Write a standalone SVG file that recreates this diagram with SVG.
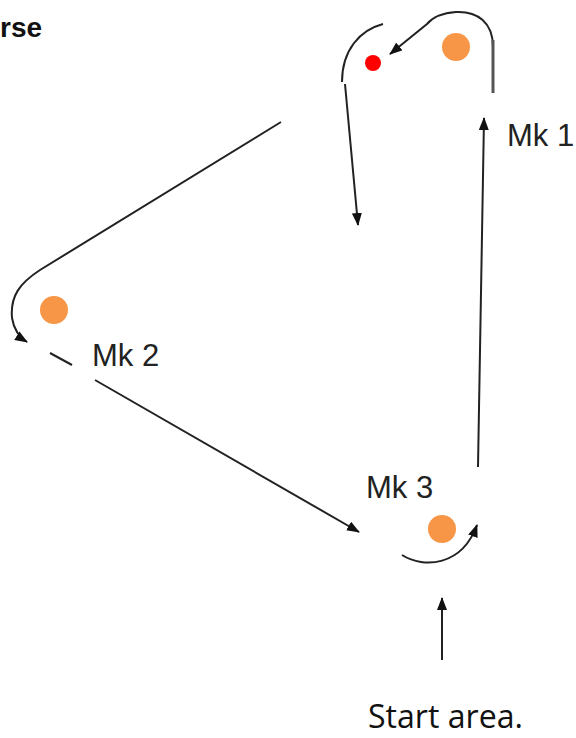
<svg xmlns="http://www.w3.org/2000/svg" width="576" height="738" viewBox="0 0 576 738">
  <style>
    .c { fill: none; stroke: #222; stroke-width: 2; }
    .lbl { font-family: "Liberation Sans", Arial, sans-serif; font-size: 31px; fill: #222; }
    .dot { fill: #F79646; }
  </style>
  <defs>
    <marker id="ah" markerUnits="userSpaceOnUse" markerWidth="13" markerHeight="10" viewBox="0 0 13 10" refX="12" refY="5" orient="auto">
      <path d="M0,0 L13,5 L0,10 Z" fill="#111"/>
    </marker>
  </defs>
  <rect width="576" height="738" fill="#fff"/>

  <g id="title">
    <text x="0" y="37" style="font-family:'Liberation Sans',Arial,sans-serif;font-size:28px;font-weight:bold;fill:#111">rse</text>
  </g>

  <g id="connectors">
    <path class="c" d="M383,24 C360,30 342,50 342,82"/>
    <path class="c" d="M345,84 L358,225" marker-end="url(#ah)"/>
    <path class="c" d="M493,47 C493,22 477,11 456,12 C441,13 432,18 427,24 L390,54" marker-end="url(#ah)"/>
    <line x1="493" y1="40" x2="493" y2="93" stroke="#555" stroke-width="3"/>
    <path class="c" d="M478,467 L484,118" marker-end="url(#ah)"/>
    <path class="c" d="M281,122 L40,270 C20,283 10,296 12,318 C14,330 19,337 27,342" marker-end="url(#ah)"/>
    <path class="c" d="M50,353 L72,365"/>
    <path class="c" d="M95,380 L359,532" marker-end="url(#ah)"/>
    <path class="c" d="M402,555 C424,569 462,566 477,525" marker-end="url(#ah)"/>
    <path class="c" d="M442,660 L442,598" marker-end="url(#ah)"/>
  </g>

  <g id="mk1">
    <circle cx="373" cy="63" r="8" fill="#FF0000"/>
    <circle class="dot" cx="456" cy="47" r="14"/>
    <text class="lbl" x="507" y="146">Mk 1</text>
  </g>

  <g id="mk2">
    <circle class="dot" cx="54" cy="310" r="14"/>
    <text class="lbl" x="92" y="366">Mk 2</text>
  </g>

  <g id="mk3">
    <circle class="dot" cx="442" cy="529" r="14"/>
    <text class="lbl" x="366" y="498">Mk 3</text>
  </g>

  <g id="start">
    <text x="368" y="728" textLength="155" lengthAdjust="spacingAndGlyphs" style="font-family:'Open Sans','Noto Sans',sans-serif;font-size:33px;fill:#111">Start area.</text>
  </g>
</svg>
